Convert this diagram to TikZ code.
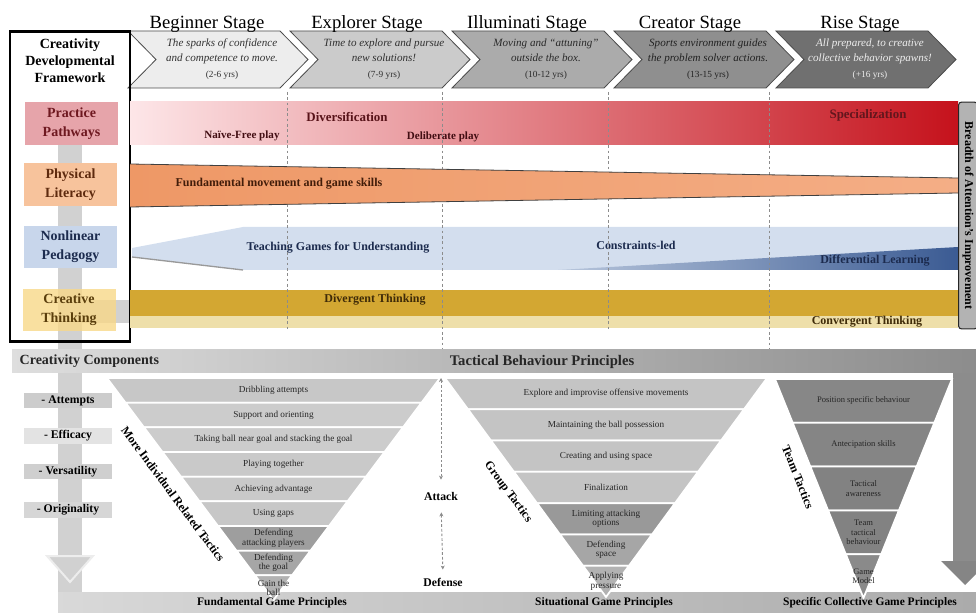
\documentclass[tikz,border=0pt]{standalone}
\usepackage{fontspec}
\setmainfont{Liberation Serif}
\usetikzlibrary{calc,arrows.meta}
\definecolor{stA}{HTML}{EDEDED}
\definecolor{stB}{HTML}{CBCBCB}
\definecolor{stC}{HTML}{ABABAB}
\definecolor{stD}{HTML}{8F8F8F}
\definecolor{stE}{HTML}{707070}
\definecolor{txA}{HTML}{333333}
\definecolor{txB}{HTML}{303030}
\definecolor{txC}{HTML}{2A2A2A}
\definecolor{txD}{HTML}{222222}
\definecolor{txE}{HTML}{EEEEEE}
\definecolor{pracbox}{HTML}{E6A4AA}
\definecolor{practxt}{HTML}{6E1820}
\definecolor{physbox}{HTML}{F7C39C}
\definecolor{phystxt}{HTML}{5E2A0E}
\definecolor{nonlbox}{HTML}{C8D6EB}
\definecolor{nonltxt}{HTML}{1C2B4E}
\definecolor{creabox}{HTML}{F8D888}
\definecolor{creatxt}{HTML}{5A3E0C}
\definecolor{pinkL}{HTML}{FDE6E8}
\definecolor{pinkM}{HTML}{EDA9AE}
\definecolor{redR}{HTML}{C5121C}
\definecolor{orgL}{HTML}{EE9866}
\definecolor{orgR}{HTML}{F4AE86}
\definecolor{nlblue}{HTML}{D3DEEE}
\definecolor{dlL}{HTML}{B8C6DC}
\definecolor{dlR}{HTML}{3B5B93}
\definecolor{divy}{HTML}{D3A732}
\definecolor{convy}{HTML}{EEDFAA}
\definecolor{boxgray}{HTML}{B3B3B3}
\newcommand{\stageyrs}[1]{{\fontsize{7}{9}\selectfont\upshape #1}}
\begin{document}
\begin{tikzpicture}[x=0.75pt,y=-0.75pt,
	stagehead/.style={anchor=base, font=\fontsize{14}{16}\selectfont},
	chev/.style={draw=black!70, line width=0.6pt},
	stagetext/.style={align=center, font=\fontsize{8.3}{11.5}\selectfont\itshape},
	rowlab/.style={align=center, inner sep=0pt, minimum width=69.75pt, minimum height=32pt, font=\fontsize{10.5}{14}\selectfont\bfseries},
	bandtxt/.style={font=\fontsize{9}{11}\selectfont\bfseries},
	dashline/.style={black!45, dash pattern=on 2pt off 2pt, line width=0.7pt},
	comp/.style={inner sep=0pt, minimum width=66pt, minimum height=11.5pt, font=\fontsize{8.8}{10}\selectfont\bfseries},
	layer/.style={draw=white, line width=1.3pt},
	layertxt/.style={align=center, text=black!85, inner sep=0pt, font=\fontsize{6.9}{7}\selectfont},
	sidetxt/.style={inner sep=0pt, font=\fontsize{9}{11}\selectfont\bfseries},
	basetxt/.style={font=\fontsize{8.6}{10}\selectfont\bfseries},
	atkarr/.style={black!45, dash pattern=on 2pt off 1.5pt, line width=0.7pt, <->, >={Stealth[length=3pt,width=3pt]}}
	]
	\useasboundingbox (0,0) rectangle (976,613);
	\fill[black!18] (58,145) rectangle (82,613);
	\fill[black!18] (58,300) rectangle (130,323);
	\node[rowlab, fill=pracbox, text=practxt] (prac) at (71.5,123.5) {Practice\\Pathways};
	\node[rowlab, fill=physbox, text=phystxt] (phys) at (70.5,184.5) {Physical\\Literacy};
	\node[rowlab, fill=nonlbox, text=nonltxt] (nonl) at (70.5,247) {Nonlinear\\Pedagogy};
	\node[rowlab, fill=creabox, fill opacity=0.8, text opacity=1, text=creatxt] (crea) at (69,310) {Creative\\Thinking};
	\foreach \s/\hx/\hd/\fc/\tc/\tx [count=\i] in {
		128/207/Beginner Stage/stA/txA/{The sparks of confidence\\and competence to move.\\\stageyrs{(2-6 yrs)}},
		290/367/Explorer Stage/stB/txB/{Time to explore and pursue\\new solutions!\\\stageyrs{(7-9 yrs)}},
		452/527/Illuminati Stage/stC/txC/{Moving and ``attuning''\\outside the box.\\\stageyrs{(10-12 yrs)}},
		614/690/Creator Stage/stD/txD/{Sports environment guides\\the problem solver actions.\\\stageyrs{(13-15 yrs)}},
		776/860/Rise Stage/stE/txE/{All prepared, to creative\\collective behavior spawns!\\\stageyrs{(+16 yrs)}}}
	{
		\filldraw[chev, fill=\fc] (\s,31) -- ++(152,0) -- ++(28,28.5) -- ++(-28,28.5) -- ++(-152,0) -- ++(28,-28.5) -- cycle;
		\node[stagehead] (h\i) at (\hx,29) {\hd};
		\node[stagetext, text=\tc] (t\i) at (\s+94,59) {\tx};
	}
	\node[draw, line width=2.2pt, minimum width=90pt, minimum height=233pt, inner sep=0pt] (cdfbox) at (70,186.5) {};
	\node[align=center, font=\fontsize{10.5}{12.8}\selectfont\bfseries] (cdf) at (70,61) {Creativity\\Developmental\\Framework};
	\shade[left color=pinkL, middle color=pinkM, right color=redR] (130,102) rectangle (958,145);
	\node[bandtxt, font=\fontsize{9.7}{11}\selectfont\bfseries, text=practxt!80!black] (div) at (347,117) {Diversification};
	\node[bandtxt, font=\fontsize{8.3}{10}\selectfont\bfseries, text=practxt!60!black] (nfp) at (242,136) {Naïve-Free play};
	\node[bandtxt, font=\fontsize{8.3}{10}\selectfont\bfseries, text=practxt!60!black] (dlp) at (443,137) {Deliberate play};
	\node[bandtxt, font=\fontsize{9.7}{11}\selectfont\bfseries, text=practxt!90!black] (spec) at (868,115) {Specialization};
	\fill[nlblue] (132,248) -- (243,227) -- (958,227) -- (958,270) -- (243,270) -- (132,257) -- cycle;
	\draw[black!40, line width=1pt] (132,257) -- (243,270);
	\shade[left color=dlL, right color=dlR] (558,270) -- (958,247) -- (958,270) -- cycle;
	\node[bandtxt, text=nonltxt] (tgfu) at (338,248) {Teaching Games for Understanding};
	\node[bandtxt, text=nonltxt] (cled) at (636,245) {Constraints-led};
	\node[bandtxt, text=nonltxt] (dlrn) at (875,261) {Differential Learning};
	\fill[divy] (130,290) rectangle (958,316);
	\fill[convy] (130,316) rectangle (958,328);
	\node[bandtxt, text=creatxt!70!black] (divt) at (375,300) {Divergent Thinking};
	\node[bandtxt, text=creatxt!70!black] (conv) at (867,322) {Convergent Thinking};
	\foreach \x/\b [count=\i] in {287/330,442/350,608/330,769/350}
		\draw[dashline] (\x,92) coordinate (d\i t) -- (\x,\b) coordinate (d\i b);
	\shade[left color=orgL, right color=orgR] (130,164) -- (958,178) -- (958,193) -- (130,207) -- cycle;
	\draw[black!75, line width=0.6pt] (130,164) -- (958,178);
	\draw[black!75, line width=0.6pt] (130,207) -- (958,193);
	\node[bandtxt, text=phystxt!70!black] (fms) at (279,184) {Fundamental movement and game skills};
	\node[draw=black!85, fill=boxgray, rounded corners=2pt, line width=0.8pt, rotate=-90, minimum width=170pt, minimum height=14pt, inner sep=0pt, font=\fontsize{9}{10}\selectfont\bfseries] (boa) at (968,215.5) {Breadth of Attention's Improvement};
	\shade[left color=black!13, middle color=black!24, right color=black!45] (12,350) rectangle (976,373);
	\shade[left color=black!15, right color=black!33] (58,592) rectangle (976,613);
	\fill[black!45] (953,373) rectangle (978,563);
	\fill[black!48] (941,561) -- (989,561) -- (965,585) -- cycle;
	\filldraw[black!18, draw=black!7, line width=1.5pt] (47,556) -- (93,556) -- (70,582) -- cycle;
	\node[anchor=west, font=\fontsize{10.5}{12}\selectfont\bfseries, text=black!85] (ccomp) at (15,361) {Creativity Components};
	\node[font=\fontsize{11}{12}\selectfont\bfseries, text=black!85] (tbp) at (542,362) {Tactical Behaviour Principles};
	\node[comp, fill=black!20] (atmp) at (68,400.5) {- Attempts};
	\node[comp, fill=black!11] (effi) at (68,436) {- Efficacy};
	\node[comp, fill=black!19] (vers) at (68,471.5) {- Versatility};
	\node[comp, fill=black!16] (orig) at (68,510) {- Originality};
	\coordinate (p1l) at (107,378);
	\coordinate (p1r) at (440,378);
	\coordinate (p1c) at (273.5,378);
	\coordinate (p1a) at (273.5,600);
	\foreach \txt/\shd [count=\i] in {Dribbling attempts/22, Support and orienting/20, Taking ball near goal and stacking the goal/20, Playing together/21, Achieving advantage/21, Using gaps/22, Defending\\attacking players/38, Defending\\the goal/35, Gain the\\ball/30}
	{
		\pgfmathsetmacro\lfa{(\i-1)/9}
		\pgfmathsetmacro\lfb{\i/9}
		\pgfmathsetmacro\lfm{(\i-0.5)/9}
		\filldraw[layer, fill=black!\shd] ($(p1l)!\lfa!(p1a)$) -- ($(p1r)!\lfa!(p1a)$) -- ($(p1r)!\lfb!(p1a)$) -- ($(p1l)!\lfb!(p1a)$) -- cycle;
		\node[layertxt] (f\i) at ($(p1c)!\lfm!(p1a)$) {\txt};
	}
	\coordinate (p2l) at (445,378);
	\coordinate (p2r) at (767,378);
	\coordinate (p2c) at (606,378);
	\coordinate (p2a) at (606,597);
	\foreach \txt/\shd [count=\i] in {Explore and improvise offensive movements/23, Maintaining the ball possession/23, Creating and using space/23, Finalization/23, Limiting attacking\\options/40, Defending\\space/35, Applying\\pressure/30}
	{
		\pgfmathsetmacro\lfa{(\i-1)/7}
		\pgfmathsetmacro\lfb{\i/7}
		\pgfmathsetmacro\lfm{(\i-0.5)/7}
		\filldraw[layer, fill=black!\shd] ($(p2l)!\lfa!(p2a)$) -- ($(p2r)!\lfa!(p2a)$) -- ($(p2r)!\lfb!(p2a)$) -- ($(p2l)!\lfb!(p2a)$) -- cycle;
		\node[layertxt] (s\i) at ($(p2c)!\lfm!(p2a)$) {\txt};
	}
	\coordinate (p3l) at (775,379);
	\coordinate (p3r) at (952,379);
	\coordinate (p3c) at (863.5,379);
	\coordinate (p3a) at (863.5,598);
	\foreach \txt/\shd [count=\i] in {Position specific behaviour/47, Antecipation skills/48, Tactical\\awareness/49, Team\\tactical\\behaviour/49, Game\\Model/46}
	{
		\pgfmathsetmacro\lfa{(\i-1)/5}
		\pgfmathsetmacro\lfb{\i/5}
		\pgfmathsetmacro\lfm{(\i-0.5)/5}
		\filldraw[layer, fill=black!\shd] ($(p3l)!\lfa!(p3a)$) -- ($(p3r)!\lfa!(p3a)$) -- ($(p3r)!\lfb!(p3a)$) -- ($(p3l)!\lfb!(p3a)$) -- cycle;
		\node[layertxt, font=\fontsize{6.4}{7}\selectfont] (c\i) at ($(p3c)!\lfm!(p3a)$) {\txt};
	}
	\node[sidetxt, rotate=-53.4] (mirt) at (173,494) {More Individual Related Tactics};
	\node[sidetxt, rotate=-53.8] (grpt) at (508,492) {Group Tactics};
	\node[sidetxt, rotate=-68] (tmt) at (798,477) {Team Tactics};
	\coordinate (atop) at (441,378);
	\node[font=\fontsize{8.8}{10}\selectfont\bfseries, inner sep=1pt] (att) at (441,496) {Attack};
	\node[font=\fontsize{8.8}{10}\selectfont\bfseries, inner sep=1pt] (dfn) at (443,582) {Defense};
	\draw[atkarr, shorten >=8pt] (atop) -- (att.north);
	\draw[atkarr, shorten <=8pt, shorten >=5pt] (att.south) -- (dfn.north);
	\node[basetxt] (fgp) at (272,603) {Fundamental Game Principles};
	\node[basetxt] (sgp) at (604,603) {Situational Game Principles};
	\node[basetxt] (scgp) at (870,603) {Specific Collective Game Principles};
\end{tikzpicture}
\end{document}
